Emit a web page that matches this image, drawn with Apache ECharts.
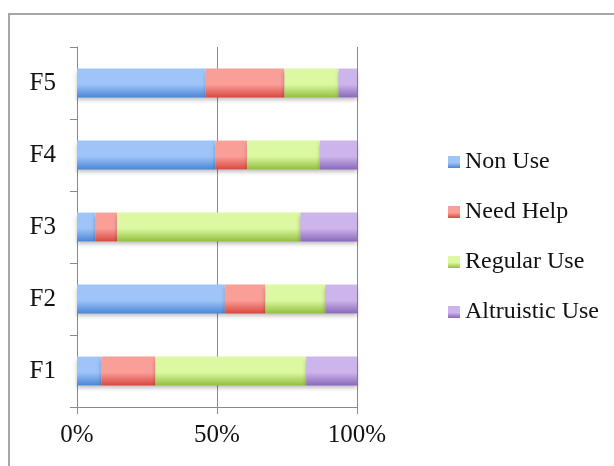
<!DOCTYPE html>
<html>
<head>
<meta charset="utf-8">
<script src="https://cdn.jsdelivr.net/npm/echarts@6/dist/echarts.min.js"></script>
<style>
html,body{margin:0;padding:0;background:#fff;}
#chart{width:614px;height:466px;}
</style>
</head>
<body>
<div id="chart"></div>
<script>
var categories = ['F1', 'F2', 'F3', 'F4', 'F5'];
var nonUse = [8.7, 52.8, 6.6, 49.4, 45.9];
var needHelp = [19.3, 14.5, 7.7, 11.3, 28.2];
var regularUse = [53.9, 21.4, 65.5, 26.0, 19.3];
var altruisticUse = [18.1, 11.3, 20.2, 13.3, 6.6];
var xTicks = [0, 50, 100];

var FONT = '"Liberation Serif", "DejaVu Serif", serif';
function grad(light, dark) {
  return new echarts.graphic.LinearGradient(0, 0, 0, 1, [
    {offset: 0, color: light},
    {offset: 0.55, color: light},
    {offset: 1, color: dark}
  ]);
}
function mk(name, data, light, dark) {
  return {
    name: name, type: 'bar', stack: 'total', data: data, barWidth: '40%',
    itemStyle: {color: grad(light, dark), shadowBlur: 4, shadowOffsetY: 3, shadowColor: 'rgba(0,0,0,0.25)'},
    emphasis: {disabled: true}
  };
}
var chart = echarts.init(document.getElementById('chart'), null, {renderer: 'canvas'});
chart.setOption({
  animation: false,
  backgroundColor: '#fff',
  graphic: [{
    type: 'rect', silent: true, z: -1,
    shape: {x: 9, y: 14, width: 800, height: 700},
    style: {fill: 'none', stroke: '#a6a6a6', lineWidth: 2}
  }],
  grid: {left: 77, right: 257, top: 47, bottom: 59, containLabel: false},
  legend: {
    orient: 'vertical', left: 443, top: 145,
    itemWidth: 12, itemHeight: 12, itemGap: 26,
    icon: 'rect',
    textStyle: {fontFamily: FONT, fontSize: 24, color: '#111', lineHeight: 24},
    data: ['Non Use', 'Need Help', 'Regular Use', 'Altruistic Use']
  },
  xAxis: {
    type: 'value', min: xTicks[0], max: xTicks[xTicks.length - 1], interval: 50,
    axisLine: {show: true, lineStyle: {color: '#8a8a8a', width: 1}},
    axisTick: {show: true, length: 7, lineStyle: {color: '#8a8a8a'}},
    splitLine: {show: true, lineStyle: {color: '#8a8a8a', width: 1}},
    axisLabel: {formatter: '{value}%', fontFamily: FONT, fontSize: 25, color: '#111', margin: 16}
  },
  yAxis: {
    type: 'category', data: categories,
    axisLine: {show: true, lineStyle: {color: '#8a8a8a', width: 1}},
    axisTick: {show: true, length: 7, alignWithLabel: false, lineStyle: {color: '#8a8a8a'}},
    axisLabel: {fontFamily: FONT, fontSize: 25, color: '#111', margin: 21}
  },
  series: [
    mk('Non Use', nonUse, '#9fc4f8', '#4a86d6'),
    mk('Need Help', needHelp, '#fa9e98', '#d9483f'),
    mk('Regular Use', regularUse, '#dcf8a2', '#93c03e'),
    mk('Altruistic Use', altruisticUse, '#ccb4ec', '#8a68ba')
  ]
});
</script>
</body>
</html>
